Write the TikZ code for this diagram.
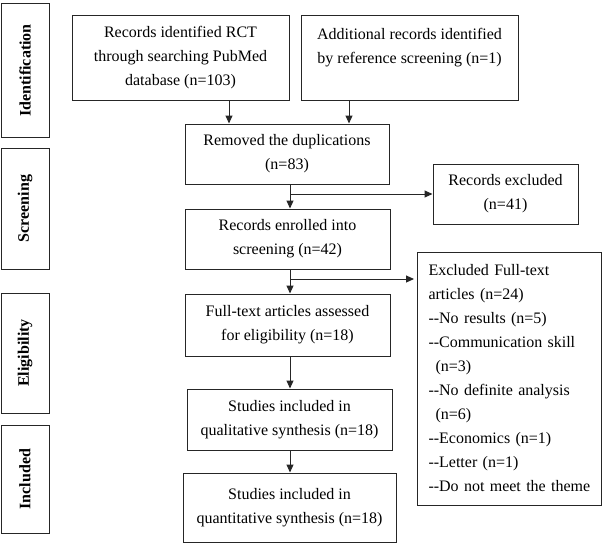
\documentclass[tikz,border=0pt]{standalone}
\usepackage{fontspec}
\setmainfont{Liberation Serif}
\usetikzlibrary{arrows.meta}
\newcommand{\dd}{-{}-}
\begin{document}
\begin{tikzpicture}[x=1pt,y=-1pt,
  every node/.style={font=\fontsize{16}{24}\selectfont},
  box/.style={draw=black!85,line width=1pt,inner sep=0pt,align=center},
  side/.style={draw=black!85,line width=1pt,inner sep=0pt,rotate=90,font=\fontsize{16}{24}\selectfont\bfseries},
  arr/.style={draw=black!85,line width=1pt,-{Triangle[length=8pt,width=7pt]}}]
\useasboundingbox (0,0) rectangle (602,543);
% side labels
\node[side,minimum width=133pt,minimum height=48pt] (id) at (25,70.5) {Identification};
\node[side,minimum width=121pt,minimum height=48pt] (scr) at (25,208.5) {Screening};
\node[side,minimum width=120pt,minimum height=48pt] (eli) at (25,353) {Eligibility};
\node[side,minimum width=108pt,minimum height=48pt] (inc) at (25,479) {Included};
% main boxes
\node[box,minimum width=217pt,minimum height=84pt] (b1) at (180.5,58) {Records identified RCT\\through searching PubMed\\database (n=103)};
\node[box,minimum width=217pt,minimum height=84pt] (b2) at (409.5,58) {Additional records identified\\by reference screening (n=1)\\\mbox{}};
\node[box,minimum width=204pt,minimum height=60pt] (b3) at (287,154) {Removed the duplications\\(n=83)};
\node[box,minimum width=145pt,minimum height=60pt] (e1) at (505.5,194) {Records excluded\\(n=41)};
\node[box,minimum width=205pt,minimum height=60pt] (b4) at (287.5,239) {Records enrolled into\\screening (n=42)};
\node[box,minimum width=205pt,minimum height=62pt] (b5) at (287.5,325) {Full-text articles assessed\\for eligibility (n=18)};
\node[box,minimum width=205pt,minimum height=61pt] (b6) at (289.5,419.5) {Studies included in\\qualitative synthesis (n=18)};
\node[box,minimum width=213pt,minimum height=69pt] (b7) at (289.5,507.5) {Studies included in\\quantitative synthesis (n=18)};
\node[box,align=left,text width=162pt,inner xsep=11pt,minimum height=253pt] (e2) at (509.5,378.5) {Excluded Full-text\\articles (n=24)\\\dd No results (n=5)\\\dd Communication skill\\\hspace*{7pt}(n=3)\\\dd No definite analysis\\\hspace*{7pt}(n=6)\\\dd Economics (n=1)\\\dd Letter (n=1)\\\dd Do not meet the theme};
% connectors
\coordinate (mx) at (290,0);
\coordinate (j1) at (290,194);
\coordinate (j2) at (290,279);
\draw[arr] (b1.south -| 229,0) -- (b3.north -| 229,0);
\draw[arr] (b2.south -| 349,0) -- (b3.north -| 349,0);
\draw[arr] (b3.south -| mx) -- (b4.north -| mx);
\draw[arr] (j1) -- (e1.west);
\draw[arr] (b4.south -| mx) -- (b5.north -| mx);
\draw[arr,shorten >=3pt] (j2) -- (j2 -| e2.west);
\draw[arr] (b5.south -| mx) -- (b6.north -| mx);
\draw[arr] (b6.south -| mx) -- (b7.north -| mx);
\end{tikzpicture}
\end{document}
